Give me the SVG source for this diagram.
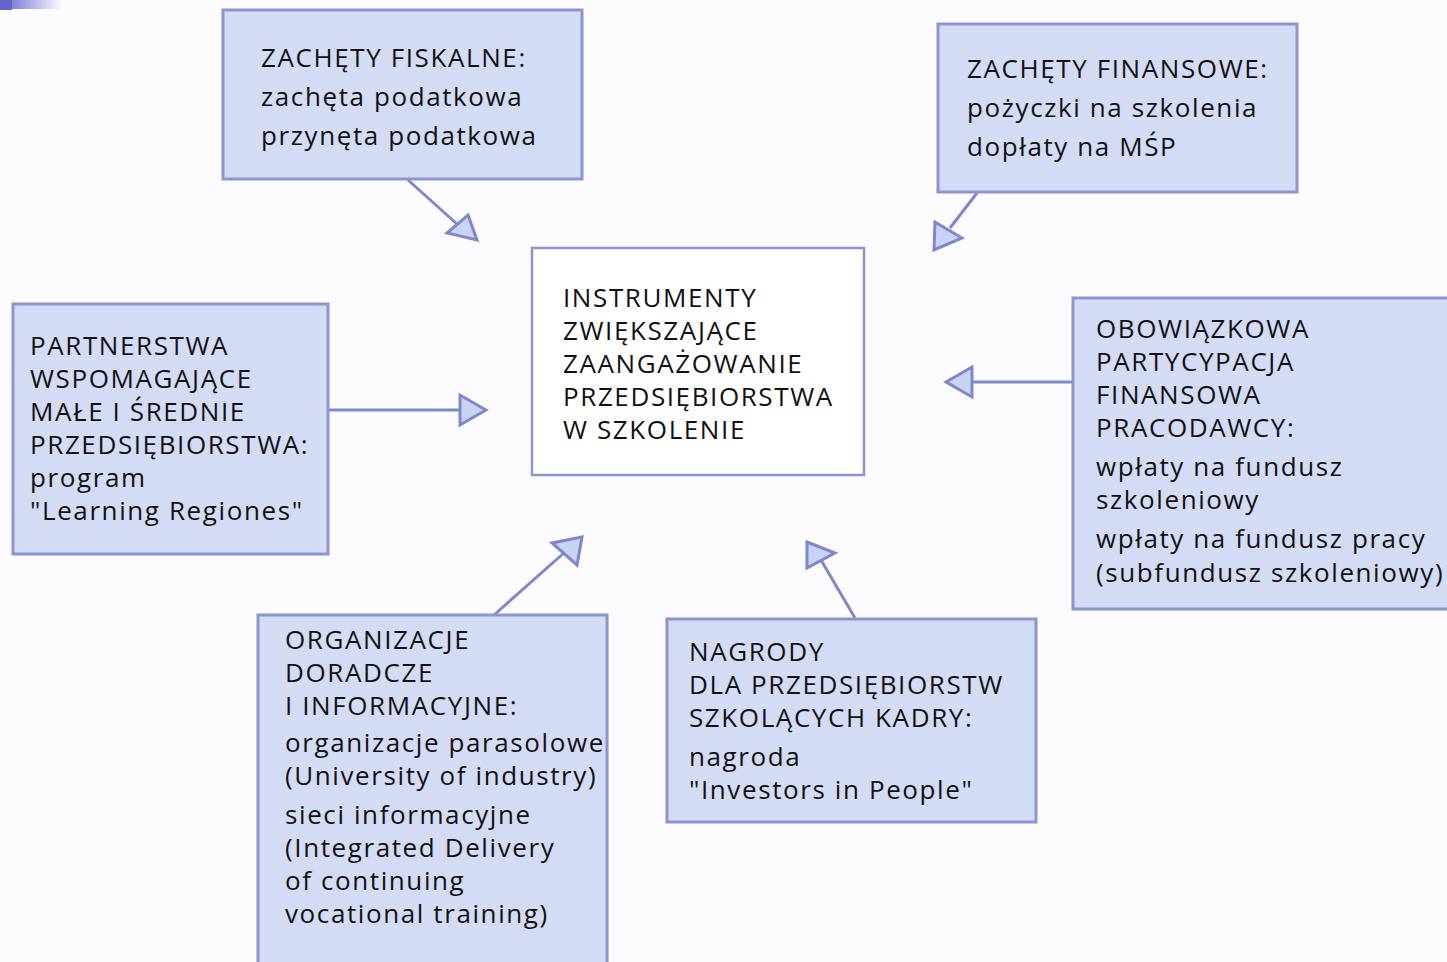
<svg xmlns="http://www.w3.org/2000/svg" width="1447" height="962" viewBox="0 0 1447 962">
<defs>
<linearGradient id="corner" x1="0" y1="0" x2="1" y2="0">
<stop offset="0" stop-color="#6464cc"/>
<stop offset="1" stop-color="#fcfcfe"/>
</linearGradient>
<style>
.box{fill:#d4dcf5;stroke:#8c94d2;stroke-width:3}
.center{fill:#ffffff;stroke:#8c94d2;stroke-width:2.5}
.t{font-family:"Open Sans","Noto Sans","DejaVu Sans",sans-serif;font-size:26px;letter-spacing:1.6px;fill:#111111}
.ln{stroke:#8088cc;stroke-width:3;fill:none}
.hd{fill:#c9d3f2;stroke:#8088cc;stroke-width:3;stroke-linejoin:miter}
</style>
</defs>
<rect width="1447" height="962" fill="#fcfcfe"/>
<rect x="0" y="0" width="62" height="9" fill="url(#corner)"/>
<rect x="0" y="0" width="12" height="10" fill="#6464cc"/>

<g id="connectors">
<line class="ln" x1="408" y1="180" x2="457" y2="224"/>
<polygon class="hd" points="468,215 477,240 447,233"/>
<line class="ln" x1="977" y1="193" x2="950" y2="228"/>
<polygon class="hd" points="935,222 962,238 934,250"/>
<line class="ln" x1="1073" y1="382" x2="972" y2="382"/>
<polygon class="hd" points="946,382 972,367 972,397"/>
<line class="ln" x1="328" y1="410" x2="460" y2="410"/>
<polygon class="hd" points="486,410 460,395 460,425"/>
<line class="ln" x1="494" y1="615" x2="565" y2="552"/>
<polygon class="hd" points="582,537 552,543 577,565"/>
<line class="ln" x1="855" y1="618" x2="821" y2="560"/>
<polygon class="hd" points="807,542 835,553 807,568"/>
</g>

<g id="fiscal">
<rect class="box" x="223" y="10" width="359" height="169"/>
<text class="t" x="261" y="67">ZACHĘTY FISKALNE:</text>
<text class="t" x="261" y="106">zachęta podatkowa</text>
<text class="t" x="261" y="145">przynęta podatkowa</text>
</g>

<g id="financial">
<rect class="box" x="938" y="24" width="359" height="168"/>
<text class="t" x="967" y="78">ZACHĘTY FINANSOWE:</text>
<text class="t" x="967" y="117">pożyczki na szkolenia</text>
<text class="t" x="967" y="156">dopłaty na MŚP</text>
</g>

<g id="center">
<rect class="center" x="532" y="248" width="332" height="227"/>
<text class="t" x="563" y="307">INSTRUMENTY</text>
<text class="t" x="563" y="340">ZWIĘKSZAJĄCE</text>
<text class="t" x="563" y="373">ZAANGAŻOWANIE</text>
<text class="t" x="563" y="406">PRZEDSIĘBIORSTWA</text>
<text class="t" x="563" y="439">W SZKOLENIE</text>
</g>

<g id="partnerships">
<rect class="box" x="13" y="304" width="315" height="250"/>
<text class="t" x="30" y="355">PARTNERSTWA</text>
<text class="t" x="30" y="388">WSPOMAGAJĄCE</text>
<text class="t" x="30" y="421">MAŁE I ŚREDNIE</text>
<text class="t" x="30" y="454">PRZEDSIĘBIORSTWA:</text>
<text class="t" x="30" y="487">program</text>
<text class="t" x="30" y="520">"Learning Regiones"</text>
</g>

<g id="obligatory">
<rect class="box" x="1073" y="298" width="380" height="311"/>
<text class="t" x="1096" y="338">OBOWIĄZKOWA</text>
<text class="t" x="1096" y="371">PARTYCYPACJA</text>
<text class="t" x="1096" y="404">FINANSOWA</text>
<text class="t" x="1096" y="437">PRACODAWCY:</text>
<text class="t" x="1096" y="476">wpłaty na fundusz</text>
<text class="t" x="1096" y="509">szkoleniowy</text>
<text class="t" x="1096" y="548">wpłaty na fundusz pracy</text>
<text class="t" x="1096" y="582">(subfundusz szkoleniowy)</text>
</g>

<g id="organizations">
<rect class="box" x="258" y="615" width="349" height="360"/>
<text class="t" x="285" y="649">ORGANIZACJE</text>
<text class="t" x="285" y="682">DORADCZE</text>
<text class="t" x="285" y="715">I INFORMACYJNE:</text>
<text class="t" x="285" y="752">organizacje parasolowe</text>
<text class="t" x="285" y="785">(University of industry)</text>
<text class="t" x="285" y="824">sieci informacyjne</text>
<text class="t" x="285" y="857">(Integrated Delivery</text>
<text class="t" x="285" y="890">of continuing</text>
<text class="t" x="285" y="923">vocational training)</text>
</g>

<g id="awards">
<rect class="box" x="667" y="619" width="369" height="203"/>
<text class="t" x="689" y="661">NAGRODY</text>
<text class="t" x="689" y="694">DLA PRZEDSIĘBIORSTW</text>
<text class="t" x="689" y="727">SZKOLĄCYCH KADRY:</text>
<text class="t" x="689" y="766">nagroda</text>
<text class="t" x="689" y="799">"Investors in People"</text>
</g>
</svg>
